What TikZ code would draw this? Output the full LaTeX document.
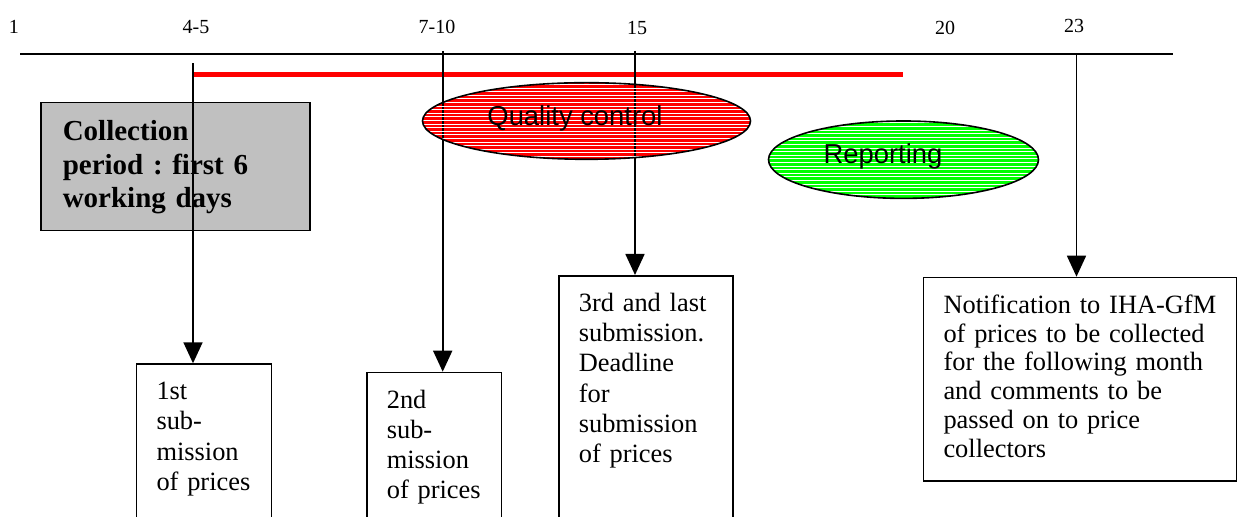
\documentclass[tikz,border=0pt]{standalone}
\usepackage{fontspec}
\setmainfont{Liberation Serif}
\newfontfamily\arialfont{Liberation Sans}
\usetikzlibrary{arrows.meta,shapes.geometric}
\frenchspacing

\definecolor{boxgrey}{HTML}{C0C0C0}
\definecolor{qcred}{HTML}{FF0000}
\definecolor{repgreen}{HTML}{00FF00}

\tikzset{
  daylabel/.style={inner sep=0pt, font=\fontsize{10}{12}\selectfont},
  subbox/.style={draw, line width=0.8pt, anchor=north west, align=left,
    inner xsep=10pt, inner ysep=0pt, text height=17.85pt,
    font=\fontsize{13.2}{15.1}\selectfont},
  phase/.style={ellipse, inner sep=0pt, outer sep=0pt},
  phaselabel/.style={anchor=base, inner sep=0pt,
    font=\arialfont\fontsize{13.7}{16}\selectfont},
  stripe/.style={white, line width=0.5pt},
  dayline/.style={line width=0.85pt, -{Triangle[length=10.5pt,width=9.5pt]}},
}

\begin{document}
\begin{tikzpicture}[x=0.5pt, y=-0.5pt]
    \useasboundingbox (0,0) rectangle (1237,517);
    \clip (0,0) rectangle (1237,517);

    % Time axis with working days
    \coordinate (axisL) at (20,54.5);
    \coordinate (axisR) at (1173,54.5);
    \draw[line width=1pt] (axisL) -- (axisR);
    \node[daylabel] (lab1) at (13.8,26.7) {1};
    \node[daylabel] (lab45) at (196,26.7) {4-5};
    \node[daylabel] (lab710) at (437,26.7) {7-10};
    \node[daylabel] (lab15) at (637,28.3) {15};
    \node[daylabel] (lab20) at (945,28.3) {20};
    \node[daylabel] (lab23) at (1074,26) {23};

    % Red bar
    \coordinate (redL) at (193,75);
    \coordinate (redR) at (903.3,75);
    \draw[qcred, line width=2.5pt] (redL) -- (redR);

    % Collection period
    \node[draw, line width=0.8pt, fill=boxgrey, anchor=north west, align=left,
      text width=112.5pt, inner xsep=11pt, inner ysep=0pt, text height=19.2pt,
      text depth=44.8pt, font=\bfseries\fontsize{14.5}{16.7}\selectfont]
      (collect) at (40,101.7) {Collection\\period : first 6\\working days};

    % Phases
    \node[phase, fill=qcred, minimum width=164pt, minimum height=38.3pt] (qc) at (586.5,121) {};
    \node[phase, fill=repgreen, minimum width=135pt, minimum height=38.7pt] (rep) at (903.5,159.7) {};

    % Submission boxes
    \node[subbox, text width=47.5pt, text depth=130pt] (sub1) at (135.7,363.3)
      {1st\\sub-\\mission\\of prices};
    \node[subbox, text width=47.35pt, text depth=130pt] (sub2) at (366,371.7)
      {2nd\\sub-\\mission\\of prices};
    \node[subbox, text width=67pt, text depth=130pt] (sub3) at (558,275)
      {3rd and last\\submission.\\Deadline\\for\\submission\\of prices};
    \node[subbox, text width=136.4pt, text depth=83.8pt,
      font=\fontsize{13.2}{14.45}\selectfont] (notify) at (922.7,276.7)
      {Notification to IHA-GfM\\of prices to be collected\\for the following month\\and comments to be\\passed on to price\\collectors};

    % Day arrows
    \coordinate (top45) at (193,63.3);
    \coordinate (top710) at (442.7,51);
    \coordinate (top15) at (635,51);
    \coordinate (top23) at (1076.5,54.5);
    \draw[dayline] (top45) -- (top45 |- sub1.north);
    \draw[dayline] (top710) -- (top710 |- sub2.north);
    \draw[dayline] (top15) -- (top15 |- sub3.north);
    \draw[dayline] (top23) -- (top23 |- notify.north);

    % Hatching of the phases
    \begin{scope}
      \clip (qc.center) ellipse [x radius=82pt, y radius=19.15pt];
      \foreach \yy in {84.5,88.1,...,160} \draw[stripe] (420,\yy) -- (752,\yy);
    \end{scope}
    \begin{scope}
      \clip (rep.center) ellipse [x radius=67.5pt, y radius=19.35pt];
      \foreach \yy in {123,126.6,...,199} \draw[stripe] (765,\yy) -- (1042,\yy);
    \end{scope}
    \draw[line width=0.8pt] (qc.center) ellipse [x radius=82pt, y radius=19.15pt];
    \draw[line width=0.8pt] (rep.center) ellipse [x radius=67.5pt, y radius=19.35pt];
    \node[phaselabel] (qctext) at (575,126) {Quality control};
    \node[phaselabel] (reptext) at (883,164) {Reporting};
\end{tikzpicture}
\end{document}
